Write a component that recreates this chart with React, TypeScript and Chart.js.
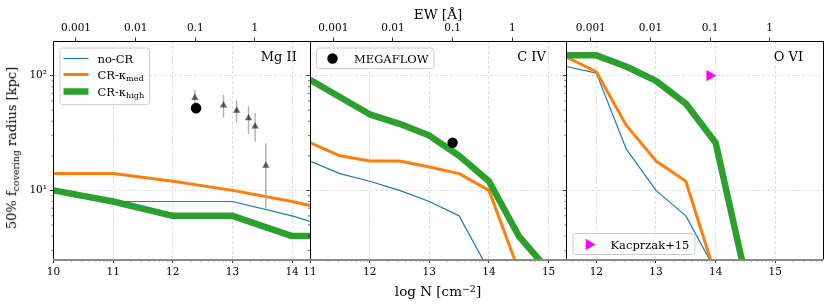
import React, { useEffect, useRef } from 'react';
import { Chart, registerables } from 'chart.js';

Chart.register(...registerables);

const SERIF = "'DejaVu Serif', 'Liberation Serif', serif";
const BLUE = '#1f77b4';
const ORANGE = '#ff7f0e';
const GREEN = '#2ca02c';
const MAGENTA = '#ff00ff';

// ---------------- data ----------------
// Mg II
const mgN = [10, 11, 12, 13, 14, 14.5];
const mgNoCR = [10, 8, 8, 8, 6, 5];
const mgMed = [14, 14, 12, 10, 8, 7];
const mgHigh = [10, 8, 6, 6, 4, 4];
const mgObsN = [12.37, 12.85, 13.07, 13.27, 13.38, 13.56];
const mgObsR = [64, 55, 49.5, 42.5, 36, 16.4];
const mgObsLow = [55, 43, 39, 31, 26.5, 7];
const mgObsHigh = [75, 68, 61, 54, 47, 25.7];
const mgMegaN = [12.39];
const mgMegaR = [52];
const mgNTicks = [10, 11, 12, 13, 14];

// C IV
const civN = [11, 11.5, 12, 12.5, 13, 13.5, 14, 14.5, 15];
const civNoCR = [18, 14, 12, 10, 8, 6, 2, null, null];
const civMed = [26, 20, 18, 18, 16, 14, 10, 2, null];
const civHigh = [92, 65, 46, 38, 30, 20, 12, 4, 2];
const civMegaN = [13.39];
const civMegaR = [26];
const civNTicks = [11, 12, 13, 14, 15];

// O VI
const oviN = [11.5, 12, 12.5, 13, 13.5, 14, 14.5];
const oviNoCR = [120, 105, 23, 10, 6, 2, null];
const oviMed = [145, 108, 37, 18, 12, 1.8, null];
const oviHigh = [150, 150, 120, 90, 57, 26, 1.8];
const oviKacN = [13.9];
const oviKacR = [100];
const oviNTicks = [12, 13, 14, 15];

// shared axes
const radiusTicks = [10, 100];
const radiusTickLabels = ['10¹', '10²'];
const ewTicks = [0.001, 0.01, 0.1, 1];
const ewTickLabels = ['0.001', '0.01', '0.1', '1'];

// ---------------- layout / style ----------------
const W = 830;
const H = 306;
const AREA_TOP = 41;
const AREA_BOTTOM = 259.5;
const TOP_AXIS_H = 20;
const BOTTOM_AXIS_H = 20;
const Y_MIN = 2.5;
const Y_MAX = 200;
const GRID = 'rgba(0,0,0,0.16)';

type Part = { t: string; sub?: boolean };
type LegendItem = { kind: 'line' | 'circle' | 'triR'; color: string; width?: number; parts: Part[] };

function lineDs(xs: number[], ys: (number | null)[], color: string, width: number, order: number, label: string) {
  return {
    type: 'line',
    label,
    data: xs.map((x, i) => ({ x, y: ys[i] })),
    borderColor: color,
    backgroundColor: color,
    borderWidth: width,
    pointRadius: 0,
    pointHoverRadius: 0,
    order,
    clip: 0,
    tension: 0,
    spanGaps: false,
    borderJoinStyle: 'round',
    borderCapStyle: 'butt',
  };
}

function pointDs(xs: number[], ys: number[], style: any, label: string) {
  return {
    type: 'scatter',
    label,
    data: xs.map((x, i) => ({ x, y: ys[i] })),
    showLine: false,
    order: 0,
    ...style,
  };
}

const panels = [
  {
    key: 'mg',
    label: 'Mg II',
    left: 53.5,
    right: 310,
    nMin: 10,
    nMax: 14.3,
    ewShift: -13.377,
    nTicks: mgNTicks,
    showY: true,
    datasets: () => [
      lineDs(mgN, mgNoCR, BLUE, 1.2, 3, 'no-CR'),
      lineDs(mgN, mgMed, ORANGE, 3, 2, 'CR-κmed'),
      lineDs(mgN, mgHigh, GREEN, 6.5, 1, 'CR-κhigh'),
      {
        ...pointDs(mgObsN, mgObsR, {
          pointStyle: 'triangle',
          pointRadius: 4.2,
          backgroundColor: 'rgba(0,0,0,0.6)',
          borderWidth: 0,
        }, 'obs'),
        errLow: mgObsLow,
        errHigh: mgObsHigh,
      },
      pointDs(mgMegaN, mgMegaR, { pointStyle: 'circle', pointRadius: 5.3, backgroundColor: '#000', borderWidth: 0 }, 'MEGAFLOW'),
    ],
    legend: {
      corner: 'tl',
      padTop: 10,
      padBottom: 13.3,
      rowH: 16.7,
      items: [
        { kind: 'line', color: BLUE, width: 1.2, parts: [{ t: 'no-CR' }] },
        { kind: 'line', color: ORANGE, width: 3, parts: [{ t: 'CR-κ' }, { t: 'med', sub: true }] },
        { kind: 'line', color: GREEN, width: 6.5, parts: [{ t: 'CR-κ' }, { t: 'high', sub: true }] },
      ] as LegendItem[],
    },
  },
  {
    key: 'civ',
    label: 'C IV',
    left: 310,
    right: 566.5,
    nMin: 11,
    nMax: 15.3,
    ewShift: -14.391,
    nTicks: civNTicks,
    showY: false,
    datasets: () => [
      lineDs(civN, civNoCR, BLUE, 1.2, 3, 'no-CR'),
      lineDs(civN, civMed, ORANGE, 3, 2, 'CR-κmed'),
      lineDs(civN, civHigh, GREEN, 6.5, 1, 'CR-κhigh'),
      pointDs(civMegaN, civMegaR, { pointStyle: 'circle', pointRadius: 5.2, backgroundColor: '#000', borderWidth: 0 }, 'MEGAFLOW'),
    ],
    legend: {
      corner: 'tl',
      padTop: 10.3,
      padBottom: 10.3,
      rowH: 16.7,
      items: [{ kind: 'circle', color: '#000', parts: [{ t: 'MEGAFLOW' }] }] as LegendItem[],
    },
  },
  {
    key: 'ovi',
    label: 'O VI',
    left: 566.5,
    right: 823,
    nMin: 11.5,
    nMax: 15.8,
    ewShift: -14.906,
    nTicks: oviNTicks,
    showY: false,
    datasets: () => [
      lineDs(oviN, oviNoCR, BLUE, 1.2, 3, 'no-CR'),
      lineDs(oviN, oviMed, ORANGE, 3, 2, 'CR-κmed'),
      lineDs(oviN, oviHigh, GREEN, 6.5, 1, 'CR-κhigh'),
      pointDs(oviKacN, oviKacR, {
        pointStyle: 'triangle',
        pointRotation: 90,
        pointRadius: 6.5,
        backgroundColor: MAGENTA,
        borderWidth: 0,
      }, 'Kacprzak+15'),
    ],
    legend: {
      corner: 'bl',
      padTop: 10.5,
      padBottom: 10.5,
      rowH: 16.7,
      items: [{ kind: 'triR', color: MAGENTA, parts: [{ t: 'Kacprzak+15' }] }] as LegendItem[],
    },
  },
];

function drawRich(ctx: CanvasRenderingContext2D, x: number, baseline: number, parts: Part[], size: number, measureOnly = false) {
  let cx = x;
  for (const p of parts) {
    const fs = p.sub ? size * 0.7 : size;
    ctx.font = `${fs}px ${SERIF}`;
    if (!measureOnly) {
      ctx.textBaseline = 'alphabetic';
      ctx.textAlign = 'left';
      ctx.fillText(p.t, cx, p.sub ? baseline + size * 0.22 : baseline);
    }
    cx += ctx.measureText(p.t).width;
  }
  return cx - x;
}

function makeDecor(spec: any) {
  return {
    id: 'decor_' + spec.key,
    beforeDatasetsDraw(chart: any) {
      const ctx = chart.ctx as CanvasRenderingContext2D;
      const xs = chart.scales.x;
      const ys = chart.scales.y;
      chart.data.datasets.forEach((ds: any) => {
        if (!ds.errLow) return;
        ctx.save();
        ctx.strokeStyle = 'rgba(0,0,0,0.3)';
        ctx.lineWidth = 1.5;
        ds.data.forEach((pt: any, i: number) => {
          const px = xs.getPixelForValue(pt.x);
          ctx.beginPath();
          ctx.moveTo(px, ys.getPixelForValue(ds.errLow[i]));
          ctx.lineTo(px, ys.getPixelForValue(ds.errHigh[i]));
          ctx.stroke();
        });
        ctx.restore();
      });
    },
    afterDatasetsDraw(chart: any) {
      const ctx = chart.ctx as CanvasRenderingContext2D;
      const a = chart.chartArea;
      const xs = chart.scales.x;
      const ys = chart.scales.y;
      ctx.save();

      // minor ticks, y (outward, left)
      ctx.strokeStyle = '#000';
      ctx.lineWidth = 0.6;
      for (let n = 0; n <= 2; n++) {
        for (let k = 2; k <= 9; k++) {
          const v = k * Math.pow(10, n);
          if (v <= Y_MIN || v >= Y_MAX) continue;
          const py = ys.getPixelForValue(v);
          ctx.beginPath();
          ctx.moveTo(a.left, py);
          ctx.lineTo(a.left - 2, py);
          ctx.stroke();
        }
      }
      // minor ticks, bottom (log-spaced within each unit of log N)
      for (let n = Math.floor(spec.nMin); n <= Math.ceil(spec.nMax); n++) {
        for (let k = 2; k <= 9; k++) {
          const v = n + Math.log10(k);
          if (v <= spec.nMin || v >= spec.nMax) continue;
          const px = xs.getPixelForValue(v);
          ctx.beginPath();
          ctx.moveTo(px, a.bottom);
          ctx.lineTo(px, a.bottom + 2);
          ctx.stroke();
        }
      }

      // frame
      ctx.strokeStyle = '#000';
      ctx.lineWidth = 1;
      const L = Math.floor(a.left) + 0.5;
      const R = Math.floor(a.right) + 0.5;
      const T = Math.floor(a.top) + 0.5;
      ctx.beginPath();
      ctx.moveTo(L, a.bottom);
      ctx.lineTo(L, T);
      ctx.lineTo(R, T);
      ctx.lineTo(R, a.bottom);
      ctx.stroke();
      ctx.strokeStyle = '#8a8a8a';
      ctx.lineWidth = 2;
      ctx.beginPath();
      ctx.moveTo(a.left - 0.5, Math.floor(a.bottom) + 1);
      ctx.lineTo(a.right + 0.5, Math.floor(a.bottom) + 1);
      ctx.stroke();

      // panel label
      ctx.fillStyle = '#000';
      ctx.font = `13px ${SERIF}`;
      ctx.textAlign = 'left';
      ctx.textBaseline = 'alphabetic';
      ctx.fillText(spec.label, a.left + 0.808 * (a.right - a.left), a.top + 19.7);

      // legend
      const lg = spec.legend;
      const FS = 11.5;
      let maxW = 0;
      lg.items.forEach((it: LegendItem) => {
        maxW = Math.max(maxW, drawRich(ctx, 0, 0, it.parts, FS, true));
      });
      const bw = 38 + maxW + 5;
      const bh = lg.padTop + lg.padBottom + (lg.items.length - 1) * lg.rowH;
      const bx = a.left + 6;
      const by = lg.corner === 'tl' ? a.top + 6.5 : a.bottom - 5.5 - bh;
      ctx.beginPath();
      if ((ctx as any).roundRect) (ctx as any).roundRect(bx + 0.5, by + 0.5, bw, bh, 3);
      else ctx.rect(bx + 0.5, by + 0.5, bw, bh);
      ctx.fillStyle = 'rgba(255,255,255,0.8)';
      ctx.fill();
      ctx.strokeStyle = '#cccccc';
      ctx.lineWidth = 1;
      ctx.stroke();
      lg.items.forEach((it: LegendItem, i: number) => {
        const cy = Math.round(by + lg.padTop + i * lg.rowH) + 0.5;
        const hx = bx + 16.5;
        if (it.kind === 'line') {
          ctx.strokeStyle = it.color;
          ctx.lineWidth = it.width || 1;
          ctx.lineCap = 'butt';
          ctx.beginPath();
          ctx.moveTo(bx + 4, cy);
          ctx.lineTo(bx + 29, cy);
          ctx.stroke();
        } else if (it.kind === 'circle') {
          ctx.fillStyle = it.color;
          ctx.beginPath();
          ctx.arc(hx, cy, 5.2, 0, Math.PI * 2);
          ctx.fill();
        } else {
          const r = 6.5;
          ctx.fillStyle = it.color;
          ctx.beginPath();
          ctx.moveTo(hx + r, cy);
          ctx.lineTo(hx - r / 2, cy - (r * Math.sqrt(3)) / 2);
          ctx.lineTo(hx - r / 2, cy + (r * Math.sqrt(3)) / 2);
          ctx.closePath();
          ctx.fill();
        }
        ctx.fillStyle = '#000';
        drawRich(ctx, bx + 38, cy + FS * 0.36, it.parts, FS);
      });
      ctx.restore();
    },
  };
}

function makeConfig(spec: any): any {
  const yW = spec.showY ? 40 : 10;
  const tickFont = { family: SERIF, size: 10.5 };
  return {
    type: 'line',
    data: { datasets: spec.datasets() },
    plugins: [makeDecor(spec)],
    options: {
      responsive: false,
      maintainAspectRatio: false,
      animation: false,
      devicePixelRatio: 1,
      events: [],
      layout: {
        padding: {
          left: spec.left - yW,
          right: W - spec.right,
          top: AREA_TOP - TOP_AXIS_H,
          bottom: H - AREA_BOTTOM - BOTTOM_AXIS_H,
        },
      },
      plugins: {
        legend: { display: false },
        tooltip: { enabled: false },
        title: { display: false },
      },
      scales: {
        x: {
          type: 'linear',
          position: 'bottom',
          min: spec.nMin,
          max: spec.nMax,
          afterBuildTicks: (s: any) => {
            s.ticks = spec.nTicks.map((v: number) => ({ value: v }));
          },
          afterFit: (s: any) => {
            s.height = BOTTOM_AXIS_H;
          },
          ticks: {
            font: tickFont,
            color: '#000',
            padding: 3,
            maxRotation: 0,
            autoSkip: false,
            callback: (_v: any, i: number) => String(spec.nTicks[i]),
          },
          grid: {
            display: true,
            drawOnChartArea: true,
            drawTicks: true,
            tickLength: 3.5,
            color: GRID,
            lineWidth: 0.8,
            tickColor: '#000',
            tickWidth: 0.8,
            tickBorderDash: [],
          },
          border: { display: false, dash: [3, 2] },
        },
        x2: {
          type: 'logarithmic',
          position: 'top',
          min: Math.pow(10, spec.nMin + spec.ewShift),
          max: Math.pow(10, spec.nMax + spec.ewShift),
          afterBuildTicks: (s: any) => {
            s.ticks = ewTicks.map((v) => ({ value: v }));
          },
          afterFit: (s: any) => {
            s.height = TOP_AXIS_H;
          },
          ticks: {
            font: tickFont,
            color: '#000',
            padding: 2.5,
            maxRotation: 0,
            autoSkip: false,
            callback: (_v: any, i: number) => ewTickLabels[i],
          },
          grid: {
            display: true,
            drawOnChartArea: false,
            drawTicks: true,
            tickLength: 3.5,
            tickColor: '#000',
            tickWidth: 0.8,
            tickBorderDash: [],
          },
          border: { display: false },
        },
        y: {
          type: 'logarithmic',
          position: 'left',
          min: Y_MIN,
          max: Y_MAX,
          afterBuildTicks: (s: any) => {
            s.ticks = radiusTicks.map((v) => ({ value: v }));
          },
          afterFit: (s: any) => {
            s.width = yW;
          },
          ticks: {
            display: spec.showY,
            font: tickFont,
            color: '#000',
            padding: 3,
            autoSkip: false,
            callback: (_v: any, i: number) => radiusTickLabels[i],
          },
          grid: {
            display: true,
            drawOnChartArea: true,
            drawTicks: true,
            tickLength: 3.5,
            color: GRID,
            lineWidth: 0.8,
            tickColor: '#000',
            tickWidth: 0.8,
            tickBorderDash: [],
          },
          border: { display: false, dash: [3, 2] },
        },
      },
    },
  };
}

function PanelChart({ spec }: { spec: any }) {
  const ref = useRef<HTMLCanvasElement>(null);
  useEffect(() => {
    if (!ref.current) return;
    const chart = new Chart(ref.current, makeConfig(spec));
    return () => chart.destroy();
  }, [spec]);
  return (
    <canvas
      ref={ref}
      width={W}
      height={H}
      style={{ position: 'absolute', left: 0, top: 0, width: W, height: H }}
    />
  );
}

const titleStyle: React.CSSProperties = {
  position: 'absolute',
  font: `13.5px ${SERIF}`,
  color: '#000',
  whiteSpace: 'nowrap',
  lineHeight: '16px',
};

export default function App() {
  return (
    <div
      style={{
        position: 'absolute',
        left: 0,
        top: 0,
        width: W,
        height: H,
        background: '#fff',
        overflow: 'hidden',
      }}
    >
      {panels.map((p) => (
        <PanelChart key={p.key} spec={p} />
      ))}
      <div style={{ ...titleStyle, left: 438, top: 14, transform: 'translate(-50%, -50%)' }}>EW [Å]</div>
      <div style={{ ...titleStyle, left: 438, top: 290, transform: 'translate(-50%, -50%)' }}>
        log N [cm<span style={{ fontSize: '0.7em', verticalAlign: '0.5em' }}>−2</span>]
      </div>
      <div
        style={{
          ...titleStyle,
          fontSize: '13px',
          left: 14,
          top: 147.5,
          transform: 'translate(-50%, -50%) rotate(-90deg)',
        }}
      >
        50% f<span style={{ fontSize: '0.72em', verticalAlign: '-0.3em' }}>covering</span> radius [kpc]
      </div>
    </div>
  );
}
